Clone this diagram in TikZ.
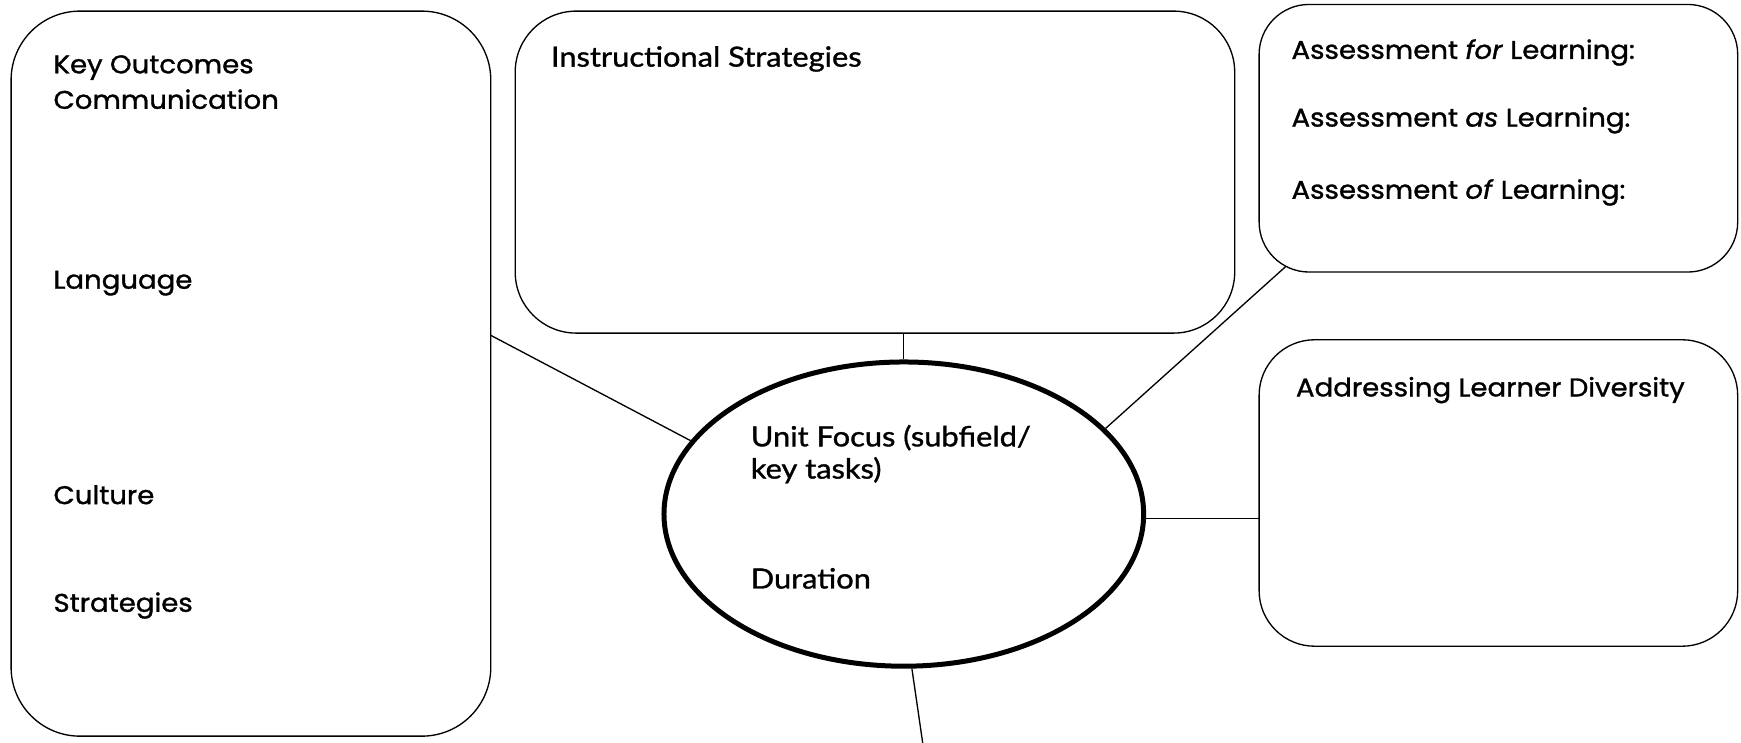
\documentclass[tikz,border=0pt]{standalone}
\usepackage{fontspec}
\setmainfont{Poppins}[FakeStretch=1.08,FakeBold=1.2]
\newfontfamily\condf{Lato}[FakeStretch=1.11,FakeBold=1.2]
\usetikzlibrary{shapes.geometric}
\begin{document}
\begin{tikzpicture}[x=1pt,y=-1pt,
  box/.style={draw, line width=1.2pt, rounded corners=#1, inner sep=0pt, outer sep=0pt, anchor=north west},
  lbl/.style={inner sep=0pt, anchor=base west, font=\fontsize{23}{26}\selectfont},
  clbl/.style={inner sep=0pt, anchor=base west, font=\condf\fontsize{25}{28}\selectfont},
  link/.style={line width=1.2pt}]
\useasboundingbox (0,0) rectangle (1568,669);
\node[box=62pt, minimum width=432pt, minimum height=653pt] (ko) at (10,10) {};
\node[box=55pt, minimum width=648pt, minimum height=290pt] (is) at (464,10) {};
\node[box=45pt, minimum width=431pt, minimum height=241pt] (as) at (1134,4) {};
\node[box=50pt, minimum width=431pt, minimum height=276pt] (ld) at (1134,306) {};
\node[draw, ellipse, line width=4.5pt, minimum width=432pt, minimum height=274pt, inner sep=0pt] (uf) at (814,463) {};
\coordinate (bt) at (831,669);
\draw[link] ([yshift=34.5pt]ko.east) -- (uf.161);
\draw[link] (uf.north) -- (uf.north |- is.south);
\draw[link] ([xshift=24pt,yshift=5pt]as.south west) -- (uf.23);
\draw[link] (uf.-1) -- (uf.-1 -| ld.west);
\draw[link] (uf.273) -- (bt);
\node[lbl] (t1) at (48,66) {Key Outcomes};
\node[lbl] (t2) at (48,98) {Communication};
\node[lbl] (t3) at (48,260) {Language};
\node[lbl] (t4) at (48,454) {Culture};
\node[lbl] (t5) at (48,551) {Strategies};
\node[clbl] (t6) at (496,60) {Instructional Strategies};
\node[lbl] (t7) at (1163,53) {Assessment \textit{for} Learning:};
\node[lbl] (t8) at (1163,114) {Assessment \textit{as} Learning:};
\node[lbl] (t9) at (1163,179) {Assessment \textit{of} Learning:};
\node[lbl] (t10) at (1167,357) {Addressing Learner Diversity};
\node[clbl] (t11) at (676,402) {Unit Focus (subfield/};
\node[clbl] (t12) at (676,431) {key tasks)};
\node[clbl] (t13) at (676,530) {Duration};
\end{tikzpicture}
\end{document}
